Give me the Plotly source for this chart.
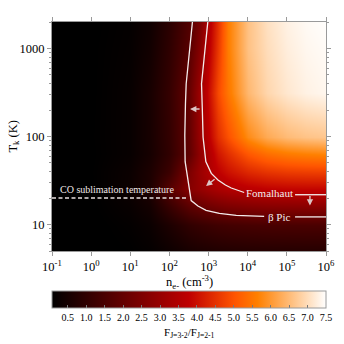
import numpy as np
import plotly.graph_objects as go

# electron density grid (cm^-3) and kinetic temperature grid (K)
ne_grid = [1e-1, 1e0, 1e1, 3.16e1, 1e2, 3.16e2, 5.62e2, 1e3, 1.78e3, 3.16e3, 1e4, 3.16e4, 1e5, 3.16e5, 1e6]
tk_grid = [5, 10, 16, 25, 40, 63, 100, 316, 1000, 2000]

# F(J=3-2)/F(J=2-1), one row per temperature
ratio_grid = [
    [0.01, 0.02, 0.08, 0.16, 0.33, 0.53, 0.60, 0.65, 0.69, 0.72, 0.76, 0.78, 0.79, 0.80, 0.80],  # 5 K
    [0.01, 0.03, 0.14, 0.28, 0.62, 1.00, 1.12, 1.22, 1.30, 1.36, 1.43, 1.47, 1.49, 1.50, 1.50],  # 10 K
    [0.02, 0.05, 0.22, 0.45, 1.12, 1.80, 2.02, 2.20, 2.33, 2.44, 2.57, 2.65, 2.68, 2.70, 2.70],  # 16 K
    [0.02, 0.06, 0.30, 0.65, 1.72, 2.65, 2.93, 3.18, 3.36, 3.51, 3.68, 3.78, 3.83, 3.85, 3.85],  # 25 K
    [0.02, 0.07, 0.28, 0.62, 1.22, 2.48, 3.03, 3.46, 3.76, 4.02, 4.36, 4.54, 4.64, 4.68, 4.70],  # 40 K
    [0.02, 0.06, 0.21, 0.50, 1.01, 1.93, 2.81, 3.50, 4.09, 4.45, 5.04, 5.37, 5.55, 5.64, 5.69],  # 63 K
    [0.03, 0.07, 0.21, 0.52, 1.05, 1.97, 2.95, 3.75, 4.46, 4.95, 5.80, 6.25, 6.50, 6.62, 6.68],  # 100 K
    [0.03, 0.06, 0.21, 0.53, 1.09, 2.04, 3.05, 3.98, 4.85, 5.50, 6.45, 6.90, 7.15, 7.30, 7.38],  # 316 K
    [0.02, 0.06, 0.17, 0.42, 0.96, 1.76, 2.59, 3.70, 4.60, 5.60, 6.60, 7.00, 7.25, 7.38, 7.44],  # 1000 K
    [0.02, 0.05, 0.15, 0.37, 0.89, 1.64, 2.38, 3.58, 4.50, 5.60, 6.60, 7.05, 7.30, 7.42, 7.48],  # 2000 K
]

# observed ratio contours (n_e, T_k); None breaks the line where the label sits
foma_ne = [955, 776, 661, 692, 724, 851, 1175, 1738, 2692, 3802, 8128, None, 1.62e5, 1e6]
foma_tk = [2000, 861, 398, 205, 98, 51.8, 38.1, 32.1, 28.1, 26.0, 23.1, None, 21.8, 21.8]
bpic_ne = [387, 268, 257, 247, 252, 284, 359, 535, 863, 1884, 5093, 26300, None, 1.62e5, 1e6]
bpic_tk = [2000, 398, 239, 103, 51.8, 38.1, 18.7, 16.2, 14.5, 13.4, 12.7, 12.4, None, 12.2, 12.2]

co_sublimation_T = 20
co_line_ne = [0.1, 300]

x_ticks = [-1, 0, 1, 2, 3, 4, 5, 6]
x_ticktext = ['10<sup>%d</sup>' % p for p in x_ticks]
y_ticks = [10, 100, 1000]
y_ticktext = ['10', '100', '1000']
y_minor = [5, 6, 7, 8, 9, 20, 30, 40, 50, 60, 70, 80, 90,
           200, 300, 400, 500, 600, 700, 800, 900, 2000]
cbar_ticks = [0.5, 1.0, 1.5, 2.0, 2.5, 3.0, 3.5, 4.0, 4.5, 5.0, 5.5, 6.0, 6.5, 7.0, 7.5]


def lg(vals):
    return [None if v is None else float(np.log10(v)) for v in vals]


# matplotlib gist_heat
gist_heat = [
    [0.0, 'rgb(0,0,0)'],
    [0.5, 'rgb(191,0,0)'],
    [0.6667, 'rgb(255,85,0)'],
    [0.75, 'rgb(255,128,0)'],
    [1.0, 'rgb(255,255,255)'],
]

SERIF = 'Liberation Serif'
AXIS_GREY = '#9a9a9a'
LINE_COL = '#f4ecec'

fig = go.Figure()

fig.add_trace(go.Heatmap(
    x=lg(ne_grid), y=lg(tk_grid), z=ratio_grid,
    colorscale=gist_heat, zmin=0.07, zmax=7.5, zsmooth='best',
    hoverinfo='skip',
    colorbar=dict(
        orientation='h', x=0.5, xanchor='center', y=-0.175, yanchor='top',
        len=1.0, lenmode='fraction', thickness=17, xpad=0, ypad=0,
        outlinewidth=1, outlinecolor=AXIS_GREY,
        tickvals=cbar_ticks, ticktext=['%.1f' % t for t in cbar_ticks],
        ticks='inside', ticklen=3, tickcolor='#777777',
        tickfont=dict(family=SERIF, size=10, color='black'),
    ),
))

line_style = dict(color=LINE_COL, width=1.3)
fig.add_trace(go.Scatter(x=lg(foma_ne), y=lg(foma_tk), mode='lines', line=line_style,
                         connectgaps=False, hoverinfo='skip', showlegend=False))
fig.add_trace(go.Scatter(x=lg(bpic_ne), y=lg(bpic_tk), mode='lines', line=line_style,
                         connectgaps=False, hoverinfo='skip', showlegend=False))
fig.add_trace(go.Scatter(x=lg(co_line_ne), y=lg([co_sublimation_T] * 2), mode='lines',
                         line=dict(color='#e8e0e0', width=1.4, dash='4px,2.5px'),
                         hoverinfo='skip', showlegend=False))

label_font = dict(family=SERIF, size=11, color='#f4ecec')
annotations = [
    dict(x=np.log10(3.63e4), y=np.log10(22.6), text='Fomalhaut', showarrow=False, font=label_font),
    dict(x=np.log10(6.46e4), y=np.log10(12.3), text='β Pic', showarrow=False, font=label_font),
    dict(x=np.log10(0.142), y=np.log10(24.9), text='CO sublimation temperature', showarrow=False,
         xanchor='left', yanchor='middle', font=dict(family=SERIF, size=10, color='#f0e8e8')),
    # shift arrows
    dict(x=np.log10(337), y=np.log10(205), ax=11, ay=0, text='', showarrow=True,
         arrowhead=2, arrowsize=0.9, arrowwidth=1.4, arrowcolor='#dcc4c4'),
    dict(x=np.log10(863), y=np.log10(27.4), ax=10, ay=-8, text='', showarrow=True,
         arrowhead=2, arrowsize=0.9, arrowwidth=1.4, arrowcolor='#dcc4c4'),
    dict(x=np.log10(3.89e5), y=np.log10(16.4), ax=0, ay=-11, text='', showarrow=True,
         arrowhead=2, arrowsize=0.9, arrowwidth=1.4, arrowcolor='#dcc4c4'),
    # axis titles
    dict(xref='paper', yref='paper', x=0.5, y=-0.137, xanchor='center', yanchor='middle',
         text='n<sub>e-</sub> (cm<sup>-3</sup>)',
         showarrow=False, font=dict(family=SERIF, size=12.5, color='black')),
    dict(xref='paper', yref='paper', x=-0.142, y=0.5, xanchor='center', yanchor='middle',
         text='T<sub>k</sub> (K)', textangle=-90,
         showarrow=False, font=dict(family=SERIF, size=12.5, color='black')),
    dict(xref='paper', yref='paper', x=0.5, y=-0.359, xanchor='center', yanchor='middle',
         text='F<sub>J=3-2</sub>/F<sub>J=2-1</sub>',
         showarrow=False, font=dict(family=SERIF, size=11, color='black')),
]

# the page adds an 8px body margin, so the figure is shifted up/left by that much
fig.update_layout(
    width=336, height=336,
    margin=dict(l=44, r=17, t=9, b=93),
    paper_bgcolor='white', plot_bgcolor='black',
    showlegend=False,
    annotations=annotations,
    font=dict(family=SERIF, size=12.5, color='black'),
)

fig.update_xaxes(
    range=[-1, 6], tickmode='array', tickvals=x_ticks, ticktext=x_ticktext,
    ticks='outside', ticklen=4, tickcolor=AXIS_GREY, showline=True, linecolor=AXIS_GREY,
    linewidth=1, mirror='ticks', showgrid=False, zeroline=False,
    tickfont=dict(family=SERIF, size=12.5, color='black'),
)
fig.update_yaxes(
    range=[np.log10(5), np.log10(2000)], tickmode='array', tickvals=lg(y_ticks), ticktext=y_ticktext,
    ticks='outside', ticklen=4, tickcolor=AXIS_GREY, showline=True, linecolor=AXIS_GREY,
    linewidth=1, mirror='ticks', showgrid=False, zeroline=False,
    minor=dict(tickmode='array', tickvals=lg(y_minor), ticks='outside', ticklen=2,
               tickcolor=AXIS_GREY, showgrid=False),
    tickfont=dict(family=SERIF, size=12.5, color='black'),
)

fig.write_html("out.html")
